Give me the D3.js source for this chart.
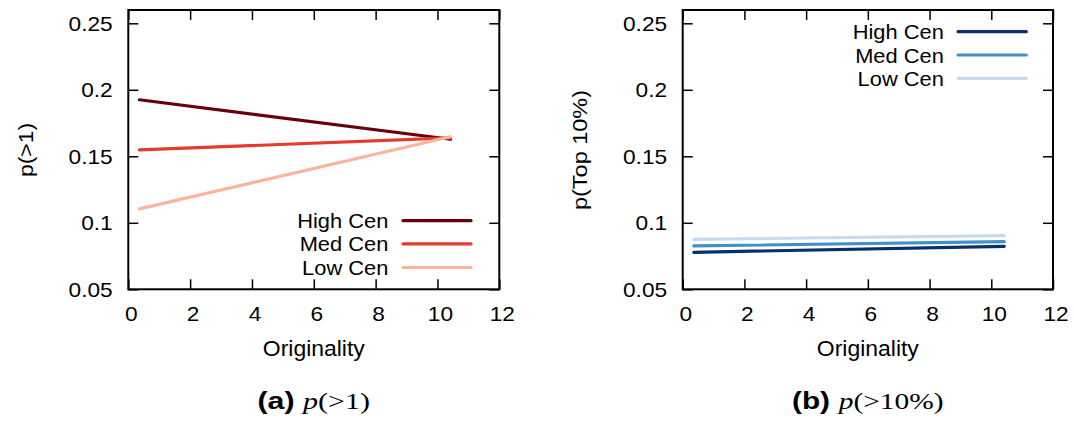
<!DOCTYPE html>
<html>
<head>
<meta charset="utf-8">
<script src="https://cdn.jsdelivr.net/npm/d3@7"></script>
<style>
  html, body { margin: 0; padding: 0; background: #fff; }
  svg { display: block; }
</style>
</head>
<body>
<svg id="chart" width="1074" height="423"></svg>
<script>
// ---- data ----
const xTicks = [0, 2, 4, 6, 8, 10, 12];
const xTickLabels = ["0", "2", "4", "6", "8", "10", "12"];
const yTicks = [0.05, 0.1, 0.15, 0.2, 0.25];
const yTickLabels = ["0.05", "0.1", "0.15", "0.2", "0.25"];
const seriesNames = ["High Cen", "Med Cen", "Low Cen"];
const originality = [0.36, 10.42];

// panel (a): p(>1)
const pGt1High = [0.1925, 0.1628];
const pGt1Med  = [0.1548, 0.1638];
const pGt1Low  = [0.1105, 0.1647];

// panel (b): p(Top 10%)
const pTopHigh = [0.0778, 0.0823];
const pTopMed  = [0.0826, 0.0858];
const pTopLow  = [0.0876, 0.0903];

const redColors  = ["#67000d", "#e63a2c", "#fcb59c"];
const blueColors = ["#08306b", "#4190c6", "#c6dbef"];

// ---- drawing ----
const SANS = "Liberation Sans, Arial, Helvetica, sans-serif";
const SERIF = "Liberation Serif, Times New Roman, serif";
const svg = d3.select("#chart");
svg.append("rect").attr("width", 1074).attr("height", 423).attr("fill", "#fff");

function stretch(sel, k) {
  sel.each(function () {
    const w = this.getComputedTextLength();
    d3.select(this).attr("textLength", w * k).attr("lengthAdjust", "spacingAndGlyphs");
  });
}

const plotTop = 10, plotBottom = 289.3;

function drawPanel(cfg) {
  const x = d3.scaleLinear().domain([0, 12]).range([cfg.left, cfg.right]);
  const y = d3.scaleLinear().domain([0.05, 0.26]).range([plotBottom, plotTop]);
  const g = svg.append("g").attr("font-family", SANS).attr("fill", "#000");

  // ticks (inward, mirrored)
  const ax = [
    d3.axisBottom(x).tickValues(xTicks).tickFormat((d, i) => xTickLabels[i]).tickSizeInner(-10).tickSizeOuter(0).tickPadding(16.5),
    d3.axisTop(x).tickValues(xTicks).tickFormat("").tickSizeInner(-10).tickSizeOuter(0),
    d3.axisLeft(y).tickValues(yTicks).tickFormat((d, i) => yTickLabels[i]).tickSizeInner(-10).tickSizeOuter(0).tickPadding(15.6),
    d3.axisRight(y).tickValues(yTicks).tickFormat("").tickSizeInner(-10).tickSizeOuter(0)
  ];
  const pos = [[0, plotBottom], [0, plotTop], [cfg.left, 0], [cfg.right, 0]];
  ax.forEach((a, i) => {
    const ag = g.append("g").attr("transform", `translate(${pos[i][0]},${pos[i][1]})`).call(a);
    ag.select(".domain").remove();
    ag.attr("font-family", SANS).attr("font-size", 21);
    ag.selectAll("line").attr("stroke", "#000").attr("stroke-width", 1.5);
    ag.selectAll("text").attr("fill", "#000");
    if (i === 0) ag.selectAll("text").attr("x", 2.5);
    stretch(ag.selectAll("text"), 1.08);
  });

  // data lines
  const line = d3.line().x((d, i) => x(originality[i])).y(d => y(d));
  cfg.series.forEach((s, i) => {
    g.append("path").datum(s).attr("d", line)
      .attr("fill", "none").attr("stroke", cfg.colors[i])
      .attr("stroke-width", 3.2).attr("stroke-linecap", "round");
  });

  // frame
  g.append("rect")
    .attr("x", cfg.left).attr("y", plotTop)
    .attr("width", cfg.right - cfg.left).attr("height", plotBottom - plotTop)
    .attr("fill", "none").attr("stroke", "#000").attr("stroke-width", 2);

  // legend
  seriesNames.forEach((name, i) => {
    const ry = cfg.legend.rowsY[i];
    const t = g.append("text").attr("x", cfg.legend.textEnd).attr("y", ry + 7.5)
      .attr("text-anchor", "end").attr("font-size", 21).text(name);
    stretch(t, 1.04);
    g.append("line").attr("x1", cfg.legend.lineX0).attr("x2", cfg.legend.lineX1)
      .attr("y1", ry).attr("y2", ry)
      .attr("stroke", cfg.colors[i]).attr("stroke-width", 3.2).attr("stroke-linecap", "round");
  });

  // x title
  g.append("text").attr("x", (cfg.left + cfg.right) / 2).attr("y", 356)
    .attr("text-anchor", "middle").attr("font-size", 22)
    .attr("textLength", 102).attr("lengthAdjust", "spacingAndGlyphs")
    .text("Originality");

  // y title
  g.append("text")
    .attr("transform", `translate(${cfg.ylabelX},150) rotate(-90)`)
    .attr("text-anchor", "middle").attr("font-size", 21)
    .attr("textLength", cfg.ylabelLen).attr("lengthAdjust", "spacingAndGlyphs")
    .text(cfg.ylabel);

  // caption, centred under the panel
  const cx = (cfg.left + cfg.right) / 2;
  const total = cfg.cap.w1 + cfg.cap.gap + cfg.cap.w2;
  const sx = cx - total / 2;
  g.append("text").attr("x", sx).attr("y", 409)
    .attr("font-size", 23).attr("font-weight", "bold").attr("font-family", SANS)
    .attr("textLength", cfg.cap.w1).attr("lengthAdjust", "spacingAndGlyphs")
    .text(cfg.cap.label);
  const ct = g.append("text").attr("x", sx + cfg.cap.w1 + cfg.cap.gap).attr("y", 409)
    .attr("font-size", 24).attr("font-family", SERIF)
    .attr("textLength", cfg.cap.w2).attr("lengthAdjust", "spacingAndGlyphs");
  ct.append("tspan").attr("font-style", "italic").text("p");
  ct.append("tspan").text(cfg.cap.math);
}

drawPanel({
  left: 128.3, right: 499.3,
  series: [pGt1High, pGt1Med, pGt1Low], colors: redColors,
  legend: { rowsY: [220.7, 243.9, 267.5], textEnd: 388.3, lineX0: 403, lineX1: 471 },
  ylabel: "p(>1)", ylabelX: 33, ylabelLen: 54,
  cap: { label: "(a)", w1: 37, gap: 8.5, w2: 67, math: "(>1)" }
});

drawPanel({
  left: 682.7, right: 1053,
  series: [pTopHigh, pTopMed, pTopLow], colors: blueColors,
  legend: { rowsY: [31.7, 55, 78.3], textEnd: 943.8, lineX0: 958, lineX1: 1026.3 },
  ylabel: "p(Top 10%)", ylabelX: 587, ylabelLen: 120,
  cap: { label: "(b)", w1: 38, gap: 8.7, w2: 105, math: "(>10%)" }
});
</script>
</body>
</html>
